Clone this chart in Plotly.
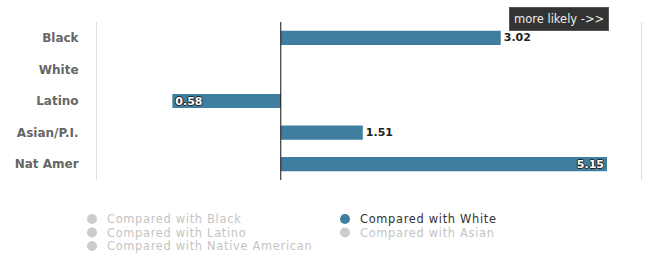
import plotly.graph_objects as go

# ---- data ----
categories = ["Black", "White", "Latino", "Asian/P.I.", "Nat Amer"]
ratios = [3.02, None, 0.58, 1.51, 5.15]          # likelihood compared with White
value_labels = ["3.02", "", "0.58", "1.51", "5.15"]
label_positions = ["outside", "none", "inside", "outside", "inside"]
legend_names = ["Compared with Black", "Compared with White", "Compared with Latino",
                "Compared with Asian", "Compared with Native American"]
active_series = "Compared with White"
baseline = 1.0
annotation_text = "more likely ->>"

BAR_COLOR = "#3f7e9e"
W, H = 645, 255
ML, MR, MT, MB = 97, 4, 22, 75
PW, PH = W - ML - MR, H - MT - MB

lengths = [None if v is None else v - baseline for v in ratios]

fig = go.Figure()
fig.add_trace(go.Bar(
    y=categories, x=lengths, base=[baseline] * len(categories), orientation="h",
    marker=dict(color=BAR_COLOR, line=dict(width=0)), width=0.45,
    text=value_labels, textposition=label_positions, insidetextanchor="end",
    constraintext="none",
    insidetextfont=dict(family="DejaVu Sans", size=11, color="white",
                        weight="bold",
                        shadow="-1px 0 #222, 1px 0 #222, 0 1px #222, 0 -1px #222"),
    outsidetextfont=dict(family="DejaVu Sans", size=11, color="#222", weight="bold"),
    cliponaxis=False, showlegend=False, hoverinfo="skip",
))

def px_x(px):
    return (px - ML) / PW

def px_y(py):
    return (H - MB - py) / PH

annotations = [dict(
    text=annotation_text, xref="paper", yref="paper", x=px_x(559), y=px_y(19.5),
    xanchor="center", yanchor="middle", showarrow=False,
    font=dict(family="DejaVu Sans", size=11.5, color="#eeeeee"),
    bgcolor="#333333", bordercolor="#555555", borderwidth=1, borderpad=4,
)]
shapes = [dict(type="line", xref="x", yref="paper", x0=baseline, x1=baseline,
               y0=0, y1=1, line=dict(color="#111111", width=1))]

col_x = [92, 345]
row_y = [219, 232.5, 246]
for i, name in enumerate(legend_names):
    cx, cy = col_x[i % 2], row_y[i // 2]
    on = name == active_series
    shapes.append(dict(type="circle", xref="paper", yref="paper",
                       xsizemode="pixel", ysizemode="pixel",
                       xanchor=px_x(cx), yanchor=px_y(cy),
                       x0=-5, x1=5, y0=-5, y1=5,
                       fillcolor=BAR_COLOR if on else "#cccccc", line=dict(width=0)))
    annotations.append(dict(
        text='<span style="letter-spacing:0.7px">' + name + "</span>",
        xref="paper", yref="paper", x=px_x(cx + 14), y=px_y(cy),
        xanchor="left", yanchor="middle", showarrow=False, borderpad=0,
        font=dict(family="DejaVu Sans", size=11.4, color="#333333" if on else "#c4c4c4"),
    ))

fig.update_layout(
    width=W, height=H, margin=dict(l=ML, r=MR, t=MT, b=MB, autoexpand=False),
    paper_bgcolor="white", plot_bgcolor="white",
    xaxis=dict(type="log", range=[-0.401, 0.786], showgrid=False, zeroline=False,
               showticklabels=False, showline=False, ticks="", automargin=False),
    yaxis=dict(categoryorder="array", categoryarray=categories,
               range=[4.5, -0.5], showgrid=False, zeroline=False, automargin=False,
               showline=True, mirror=True, linecolor="#dddddd", linewidth=1,
               ticks="", ticklabelstandoff=15,
               tickfont=dict(family="DejaVu Sans", size=12, color="#666666",
                             weight="bold")),
    annotations=annotations, shapes=shapes, showlegend=False,
)

fig.write_html("out.html", config={"displayModeBar": False},
               post_script="document.body.style.margin='0';")
